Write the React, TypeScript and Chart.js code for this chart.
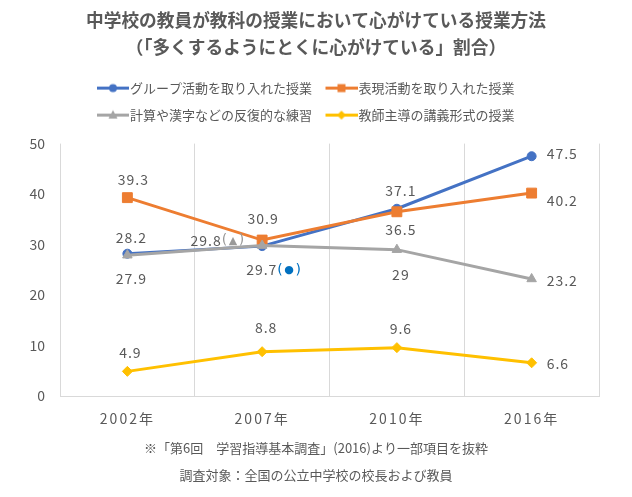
import React, { useEffect, useRef } from 'react';
import { Chart, registerables } from 'chart.js';

Chart.register(...registerables);

// ---- data ----
const years = ['2002年', '2007年', '2010年', '2016年'];
const groupWork = [28.2, 29.7, 37.1, 47.5];
const expression = [39.3, 30.9, 36.5, 40.2];
const drills = [27.9, 29.8, 29, 23.2];
const lecture = [4.9, 8.8, 9.6, 6.6];
const seriesNames = [
  'グループ活動を取り入れた授業',
  '表現活動を取り入れた授業',
  '計算や漢字などの反復的な練習',
  '教師主導の講義形式の授業',
];
const groupWorkNotes = ['', '(●)', '', ''];
const expressionNotes = ['', '', '', ''];
const drillNotes = ['', '(▲)', '', ''];
const lectureNotes = ['', '', '', ''];
const titleLines = [
  '中学校の教員が教科の授業において心がけている授業方法',
  '（「多くするようにとくに心がけている」割合）',
];
const noteLines = [
  '※「第6回　学習指導基本調査」(2016)より一部項目を抜粋',
  '調査対象：全国の公立中学校の校長および教員',
];
const yMin = 0;
const yMax = 50;
const yStep = 10;

// ---- styles ----
const FONT = '"Noto Sans CJK JP", "Noto Sans", sans-serif';
const NOTE_FONT = '"DejaVu Sans", "Noto Sans", sans-serif';
const TEXT = '#595959';
const BLUE = '#4472C4';
const ORANGE = '#ED7D31';
const GRAY = '#A5A5A5';
const YELLOW = '#FFC000';
const colors = [BLUE, ORANGE, GRAY, YELLOW];
const markers = ['circle', 'rect', 'triangle', 'rectRot'];
const noteColors = ['#0070C0', TEXT, '#999999', TEXT];

type Place = { dx: number; dy: number; a?: 'c' | 'l' | 'r' };
const labelPlacement: Place[][] = [
  [{ dx: 4, dy: -16 }, { dx: -16, dy: 24, a: 'l' }, { dx: 4, dy: -18 }, { dx: 15, dy: -3, a: 'l' }],
  [{ dx: 6, dy: -18 }, { dx: 1, dy: -21 }, { dx: 4, dy: 18 }, { dx: 15, dy: 8, a: 'l' }],
  [{ dx: 4, dy: 23 }, { dx: -17, dy: -5, a: 'r' }, { dx: 4, dy: 25 }, { dx: 15, dy: 2, a: 'l' }],
  [{ dx: 3, dy: -19 }, { dx: 4, dy: -24 }, { dx: 4, dy: -19 }, { dx: 15, dy: 1, a: 'l' }],
];

function legendIcon(color: string, style: string): HTMLCanvasElement {
  const c = document.createElement('canvas');
  c.width = 37;
  c.height = 13;
  const g = c.getContext('2d')!;
  g.strokeStyle = color;
  g.fillStyle = color;
  g.lineWidth = 3;
  g.beginPath();
  g.moveTo(5, 6.5);
  g.lineTo(37, 6.5);
  g.stroke();
  const cx = 21;
  const cy = 6.5;
  g.beginPath();
  if (style === 'circle') {
    g.arc(cx, cy, 4, 0, Math.PI * 2);
  } else if (style === 'rect') {
    g.rect(cx - 4, cy - 4, 8, 8);
  } else if (style === 'triangle') {
    g.moveTo(cx, cy - 5);
    g.lineTo(cx + 4.5, cy + 3.5);
    g.lineTo(cx - 4.5, cy + 3.5);
    g.closePath();
  } else {
    g.moveTo(cx, cy - 4.5);
    g.lineTo(cx + 4.5, cy);
    g.lineTo(cx, cy + 4.5);
    g.lineTo(cx - 4.5, cy);
    g.closePath();
  }
  g.fill();
  return c;
}

const notes = [groupWorkNotes, expressionNotes, drillNotes, lectureNotes];

// font for a character of a note: brackets normal, symbols smaller
const isBracket = (ch: string) => ch === '(' || ch === ')';
const noteCharFont = (ch: string) => (isBracket(ch) ? `14px ${NOTE_FONT}` : `11px ${NOTE_FONT}`);

const pointLabels = {
  id: 'pointLabels',
  afterDatasetsDraw(chart: any) {
    const ctx = chart.ctx as CanvasRenderingContext2D;
    ctx.save();
    (ctx as any).letterSpacing = '1px';
    ctx.textBaseline = 'middle';
    ctx.textAlign = 'left';
    chart.data.datasets.forEach((ds: any, i: number) => {
      const meta = chart.getDatasetMeta(i);
      meta.data.forEach((pt: any, j: number) => {
        const p = labelPlacement[i][j];
        const main = String(ds.data[j]);
        const note = notes[i][j];
        ctx.font = `14px ${FONT}`;
        const wMain = ctx.measureText(main).width;
        const chars = note ? Array.from(note) : [];
        const widths = chars.map((ch) => {
          ctx.font = noteCharFont(ch);
          return ctx.measureText(ch).width + (isBracket(ch) ? 0 : 1);
        });
        const wNote = widths.reduce((s, w) => s + w, 0);
        const total = wMain + wNote;
        const a = p.a || 'c';
        let x = pt.x + p.dx;
        if (a === 'c') x -= total / 2;
        else if (a === 'r') x -= total;
        const y = pt.y + p.dy;
        ctx.font = `14px ${FONT}`;
        ctx.fillStyle = TEXT;
        ctx.fillText(main, x, y);
        let cx = x + wMain;
        ctx.fillStyle = noteColors[i];
        chars.forEach((ch, k) => {
          ctx.font = noteCharFont(ch);
          ctx.fillText(ch, cx + (isBracket(ch) ? 0 : 0.5), y + (isBracket(ch) ? 0 : 0.5));
          cx += widths[k];
        });
      });
    });
    ctx.restore();
  },
};

const tickSpacing = {
  id: 'tickSpacing',
  beforeDraw(chart: any) {
    const s = chart.scales.x;
    if (s && !s.__patched) {
      const orig = s.drawLabels;
      s.drawLabels = function (ca: any) {
        const c = this.ctx;
        c.save();
        c.letterSpacing = '2px';
        orig.call(this, ca);
        c.restore();
      };
      s.__patched = true;
    }
  },
};

const legendSpacer = {
  id: 'legendSpacer',
  beforeInit(chart: any) {
    const lg = chart.legend;
    if (lg && !lg.__patched) {
      const f = lg.fit;
      lg.fit = function () {
        f.call(this);
        this.height += 12;
      };
      lg.__patched = true;
    }
  },
  afterLayout(chart: any) {
    const lg = chart.legend;
    if (lg) {
      lg.left -= 10;
      lg.right -= 10;
    }
  },
};

export default function App() {
  const ref = useRef<HTMLCanvasElement>(null);
  useEffect(() => {
    if (!ref.current) return;
    const series = [groupWork, expression, drills, lecture];
    const icons = colors.map((c, i) => legendIcon(c, markers[i]));
    const radii = [4.5, 7, 5.5, 5];
    const chart = new Chart(ref.current, {
      type: 'line',
      data: {
        labels: years,
        datasets: series.map((d, i) => ({
          label: seriesNames[i],
          data: d,
          borderColor: colors[i],
          backgroundColor: colors[i],
          pointBackgroundColor: colors[i],
          pointBorderColor: colors[i],
          pointBorderWidth: 1,
          pointStyle: markers[i] as any,
          pointRadius: radii[i],
          borderWidth: 3,
          tension: 0,
          order: 4 - i,
        })),
      },
      options: {
        animation: false,
        responsive: true,
        maintainAspectRatio: false,
        events: [],
        layout: { padding: { left: 33, right: 33, top: 0, bottom: 0 } },
        scales: {
          x: {
            offset: true,
            grid: { display: true, offset: true, color: '#D9D9D9', drawTicks: false, lineWidth: 1 },
            border: { display: true, color: '#D9D9D9' },
            ticks: { color: TEXT, font: { size: 14, family: FONT }, padding: 14 },
          },
          y: {
            min: yMin,
            max: yMax,
            grid: { display: false, drawTicks: false },
            border: { display: false },
            ticks: { stepSize: yStep, color: TEXT, font: { size: 14, family: FONT }, padding: 15 },
            afterFit: (s: any) => {
              s.width = 27;
              s._computeLabelArea = () => undefined;
            },
          },
        },
        plugins: {
          title: {
            display: true,
            text: titleLines,
            color: TEXT,
            font: { size: 17.7, weight: 'bold', family: FONT, lineHeight: 1.5 },
            padding: { top: 7, bottom: 7.5 },
          },
          subtitle: {
            display: true,
            position: 'bottom',
            text: noteLines,
            color: TEXT,
            font: { size: 13, family: FONT, lineHeight: 2.08 },
            padding: { top: -6, bottom: 8 },
          },
          legend: {
            display: true,
            position: 'top',
            labels: {
              usePointStyle: true,
              pointStyleWidth: 26,
              boxHeight: 13,
              padding: 14,
              color: TEXT,
              font: { size: 13, family: FONT },
              generateLabels: (ch: any) =>
                ch.data.datasets.map((ds: any, i: number) => ({
                  text: ds.label,
                  pointStyle: icons[i],
                  fillStyle: colors[i],
                  strokeStyle: colors[i],
                  lineWidth: 0,
                  hidden: false,
                  datasetIndex: i,
                  fontColor: TEXT,
                })),
            },
          },
          tooltip: { enabled: false },
        },
      },
      plugins: [legendSpacer, pointLabels, tickSpacing],
    } as any);
    return () => chart.destroy();
  }, []);
  return (
    <div style={{ position: 'absolute', left: 0, top: 0, width: 632, height: 497, background: '#fff' }}>
      <canvas ref={ref} />
    </div>
  );
}
